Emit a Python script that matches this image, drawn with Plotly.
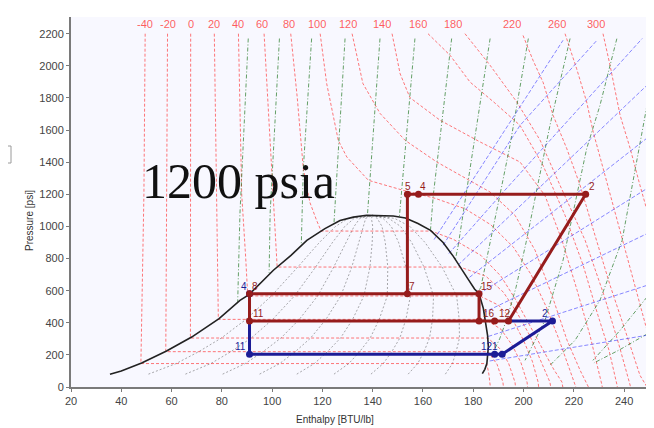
import plotly.graph_objects as go

# ---------------- axes ----------------
H_RANGE = [20, 249.1]
P_RANGE = [0, 2304]

# ---------------- saturation dome (h BTU/lb, P psia) ----------------
dome_h = [35.5, 40.0, 48.1, 58.0, 68.0, 78.9, 87.2, 90.8, 100.5, 107.5, 113.8, 121.0, 127.0, 132.3, 137.6,
          143.0, 148.2, 153.0, 158.0, 163.0, 168.0, 172.0, 174.7, 178.0, 180.5, 182.3, 184.0, 184.9, 185.7,
          186.0, 185.8, 185.4, 184.6, 183.6]
dome_p = [79, 100, 150, 224, 311, 426, 539, 575, 727, 820, 913, 986, 1037, 1058, 1069,
          1069, 1065, 1052, 1018, 975, 900, 815, 747, 670, 610, 581, 490, 411, 320,
          249, 195, 146, 110, 83]

# ---------------- quality lines inside the dome ----------------
quality_p = [80, 146, 220, 305, 421, 567, 747, 900, 1000, 1050, 1069]
quality_h = [
    [50.8, 61.8, 70.8, 79.8, 89.6, 99.7, 110.2, 118.8, 125.2, 130.3, 140.0],
    [65.5, 75.6, 83.6, 91.7, 100.2, 108.9, 117.3, 124.0, 128.9, 132.6, 140.0],
    [80.3, 89.3, 96.4, 103.5, 110.8, 118.1, 124.5, 129.3, 132.6, 134.9, 140.0],
    [95.0, 103.0, 109.2, 115.3, 121.4, 127.3, 131.7, 134.5, 136.3, 137.2, 140.0],
    [109.8, 116.8, 122.0, 127.2, 132.0, 136.5, 138.9, 139.8, 140.0, 139.5, 140.0],
    [124.6, 130.5, 134.8, 139.0, 142.6, 145.8, 146.0, 145.0, 143.7, 141.8, 140.0],
    [139.3, 144.2, 147.6, 150.8, 153.2, 155.0, 153.2, 150.3, 147.4, 144.1, 140.0],
    [154.1, 157.9, 160.4, 162.6, 163.8, 164.2, 160.4, 155.5, 151.1, 146.4, 140.0],
    [168.9, 171.7, 173.2, 174.5, 174.4, 173.4, 167.6, 160.8, 154.8, 148.7, 140.0],
]

# ---------------- isotherms (deg F) ----------------
iso_temps = [-40, -20, 0, 20, 40, 60, 80, 100, 120, 140, 160, 180, 220, 260, 300]
iso_label_h = [49.4, 58.5, 67.6, 77.0, 86.5, 96.1, 106.8, 118.0, 130.3, 143.6, 158.1, 172.1, 195.3, 213.4, 228.7]
ISO_LABEL_P = 2258
isotherms = [
    [(49.5, 2200), (49.0, 1200), (47.8, 146), (185.4, 146), (186.2, 80), (186.7, 30), (186.8, 0)],
    [(58.4, 2200), (57.7, 220), (185.9, 220), (189.5, 140), (191.8, 30), (192.0, 0)],
    [(67.6, 2200), (67.5, 305), (185.8, 305), (190.5, 240), (194.0, 150), (196.6, 30), (196.8, 0)],
    [(77.0, 2200), (78.0, 1200), (78.6, 421), (184.8, 421), (191.0, 360), (195.5, 260), (199.0, 150), (201.4, 30), (201.6, 0)],
    [(86.6, 2200), (87.9, 1200), (89.5, 800), (90.3, 567), (182.6, 567), (190.0, 510), (196.0, 410), (200.0, 290),
     (203.5, 160), (205.8, 30), (206.0, 0)],
    [(96.8, 2200), (99.8, 1318), (100.3, 1162), (101.3, 950), (102.0, 747), (174.7, 747), (185.0, 690), (192.0, 590),
     (197.5, 460), (202.5, 320), (206.5, 180), (210.5, 30), (210.8, 0)],
    [(107.4, 2200), (110.0, 1800), (112.4, 1360), (115.0, 1150), (117.7, 1037), (119.5, 971), (163.3, 971),
     (172.0, 920), (183.0, 820), (191.0, 690), (197.0, 540), (203.0, 370), (208.0, 220), (212.0, 110), (215.3, 30),
     (215.6, 0)],
    [(119.1, 2200), (121.7, 1889), (126.3, 1536), (129.7, 1432), (138.3, 1287), (152.1, 1225), (164.8, 1175),
     (176.7, 1110), (187.0, 1010), (196.0, 870), (203.0, 700), (209.0, 500), (214.0, 300), (218.0, 130),
     (220.5, 23), (220.8, 0)],
    [(131.8, 2200), (136.1, 1890), (142.9, 1704), (152.9, 1536), (165.5, 1401), (177.4, 1298), (186.7, 1214),
     (196.6, 1069), (204.6, 851), (211.3, 571), (217.3, 291), (222.5, 104), (225.7, 4), (225.8, 0)],
    [(147.7, 2200), (150.9, 1951), (154.8, 1802), (166.8, 1661), (182.7, 1526), (198.6, 1401), (208.5, 1193),
     (215.3, 913), (221.3, 602), (226.4, 322), (231.2, 11), (231.3, 0)],
    [(162.0, 2200), (170.8, 2065), (178.7, 1899), (188.7, 1767), (198.6, 1629), (207.7, 1381), (216.5, 1069),
     (223.7, 758), (229.6, 446), (234.0, 228), (237.2, 11), (237.3, 0)],
    [(176.7, 2200), (186.7, 2003), (197.3, 1775), (206.6, 1536), (214.5, 1256), (224.5, 913), (232.0, 571),
     (238.0, 260), (242.4, 11), (242.5, 0)],
    [(199.8, 2189), (203.8, 2033), (207.8, 1896), (211.8, 1690), (217.2, 1484), (222.5, 1256), (228.4, 945),
     (234.4, 634), (240.4, 353), (246.3, 73), (249.1, 0)],
    [(216.5, 2200), (221.1, 1983), (225.1, 1775), (227.7, 1588), (232.4, 1318), (238.4, 976), (244.4, 634),
     (249.1, 353)],
    [(231.6, 2200), (234.4, 2003), (238.4, 1692), (242.4, 1486), (246.3, 1256), (249.1, 1100)],
]

# ---------------- isentropes (green) ----------------
isentropes = [
    [(90.5, 2170), (87.2, 1080), (86.3, 530)],
    [(102.9, 2170), (99.2, 1080), (98.8, 710)],
    [(115.7, 2170), (112.4, 1360), (111.6, 890)],
    [(129.0, 2170), (125.3, 1200), (124.6, 1020)],
    [(142.9, 2170), (138.3, 1193), (137.9, 1069)],
    [(156.8, 2170), (151.5, 1195), (150.6, 1058)],
    [(171.4, 2170), (164.1, 1194), (163.0, 980)],
    [(186.7, 2170), (178.0, 1277), (174.0, 880), (172.9, 795)],
    [(201.9, 2170), (194.6, 1504), (190.0, 1150), (186.0, 850), (183.0, 620), (181.8, 590)],
    [(218.5, 2170), (210.5, 1629), (205.9, 1277), (201.0, 900), (197.0, 620), (193.5, 430), (190.5, 300), (188.5, 235)],
    [(237.1, 2169), (230.4, 1754), (225.1, 1484), (222.5, 1287), (215.7, 789), (208.5, 415), (200.6, 166)],
    [(249.1, 1754), (244.4, 1349), (239.2, 913), (230.4, 540), (220.5, 291), (210.5, 135)],
    [(249.1, 560), (238.4, 353), (227.6, 166)],
    [(249.1, 330), (238.0, 230), (228.0, 150)],
]

# ---------------- isochores (blue) ----------------
isochores = [
    [(164.4, 918), (215.7, 2159)],
    [(168.0, 883), (181.5, 1212), (198.6, 1629), (229.2, 2159)],
    [(170.3, 831), (191.8, 1212), (247.2, 2170)],
    [(174.0, 760), (249.1, 1879)],
    [(178.5, 683), (249.1, 1550)],
    [(182.3, 581), (249.1, 1236)],
    [(184.0, 462), (249.1, 955)],
    [(186.0, 315), (249.1, 633)],
    [(186.5, 162), (249.1, 322)],
]

# ---------------- refrigeration cycle ----------------
red_pt_label = ["5", "4", "2", "7", "15", "16", "", "12", "8", "11"]
red_pt_h = [153.8, 158.2, 224.7, 153.8, 182.3, 182.3, 188.5, 194.0, 91.0, 91.0]
red_pt_p = [1200, 1200, 1200, 581, 581, 411, 411, 411, 581, 411]
red_path_h = [153.8, 224.7, 194.0, 91.0, 91.0, 182.3, 182.3, None, 153.8, 153.8]
red_path_p = [1200, 1200, 411, 411, 581, 581, 411, None, 1200, 581]

blue_pt_label = ["11", "12", "1", "2", "4"]
blue_pt_h = [91.0, 188.5, 191.5, 211.5, 91.0]
blue_pt_p = [204, 204, 204, 411, 581]
blue_path_h = [91.0, 91.0, 191.5, 211.5, 194.0]
blue_path_p = [411, 204, 204, 411, 411]

RED = "#961c1c"
BLUE = "#1c1c96"


def join(curves):
    xs, ys = [], []
    for c in curves:
        xs += [p[0] for p in c] + [None]
        ys += [p[1] for p in c] + [None]
    return xs, ys


fig = go.Figure()

qx, qy = [], []
for row in quality_h:
    qx += row + [None]
    qy += quality_p + [None]
fig.add_trace(go.Scatter(x=qx, y=qy, mode="lines",
                         line=dict(color="rgba(60,60,60,0.55)", width=0.8, dash="2px,2px")))

ix, iy = join(isotherms)
fig.add_trace(go.Scatter(x=ix, y=iy, mode="lines",
                         line=dict(color="rgba(255,30,30,0.6)", width=1, dash="3px,2px")))

gx, gy = join(isentropes)
fig.add_trace(go.Scatter(x=gx, y=gy, mode="lines",
                         line=dict(color="rgba(20,110,20,0.65)", width=1, dash="4px,2px,1px,2px")))

bx, by = join(isochores)
fig.add_trace(go.Scatter(x=bx, y=by, mode="lines",
                         line=dict(color="rgba(40,40,255,0.55)", width=1, dash="4px,2px")))

fig.add_trace(go.Scatter(x=dome_h, y=dome_p, mode="lines", line=dict(color="#222222", width=1.6)))

fig.add_trace(go.Scatter(x=blue_path_h, y=blue_path_p, mode="lines", line=dict(color=BLUE, width=3)))
fig.add_trace(go.Scatter(x=red_path_h, y=red_path_p, mode="lines", line=dict(color=RED, width=3)))
fig.add_trace(go.Scatter(x=blue_pt_h, y=blue_pt_p, mode="markers", marker=dict(color=BLUE, size=7)))
fig.add_trace(go.Scatter(x=red_pt_h, y=red_pt_p, mode="markers", marker=dict(color=RED, size=7)))

annotations = []
for t, h in zip(iso_temps, iso_label_h):
    annotations.append(dict(x=h, y=ISO_LABEL_P, text=str(t), showarrow=False,
                            font=dict(family="Liberation Sans", size=11, color="rgba(255,40,40,0.75)")))

label_specs = [
    ("5", 153.8, 1200, RED, "center", 1),
    ("4", 158.2, 1200, RED, "left", 0),
    ("2", 224.7, 1200, RED, "left", 1),
    ("7", 153.8, 581, RED, "left", 0),
    ("15", 182.3, 581, RED, "left", 0),
    ("16", 182.3, 411, RED, "left", 2),
    ("12", 188.5, 411, RED, "left", 2),
    ("8", 91.0, 581, RED, "left", 0),
    ("11", 91.0, 411, RED, "left", 1),
    ("11", 91.0, 204, BLUE, "right", -2),
    ("4", 91.0, 581, BLUE, "right", -1),
    ("12", 188.5, 204, BLUE, "right", 0),
    ("1", 191.5, 204, BLUE, "right", -2),
    ("2", 211.5, 411, BLUE, "right", -2),
]
for txt, h, p, col, xa, xs in label_specs:
    annotations.append(dict(x=h, y=p, text=txt, showarrow=False, xanchor=xa, yanchor="bottom",
                            xshift=xs, yshift=0,
                            font=dict(family="Liberation Sans", size=10, color=col)))

annotations.append(dict(x=86.6, y=1280, text="1200 psia", showarrow=False,
                        font=dict(family="Liberation Serif", size=50, color="#111111")))
annotations.append(dict(xref="paper", yref="paper", x=(30 - 71) / 576, y=(387 - 221) / 370,
                        xanchor="center", yanchor="middle",
                        text="Pressure [psi]", textangle=-90, showarrow=False,
                        font=dict(family="Liberation Sans", size=10, color="#333333")))
annotations.append(dict(xref="paper", yref="paper", x=(334.5 - 71) / 576, y=(387 - 419) / 370,
                        xanchor="center", yanchor="middle",
                        text="Enthalpy [BTU/lb]", showarrow=False,
                        font=dict(family="Liberation Sans", size=10, color="#333333")))

shapes = [
    dict(type="line", xref="paper", yref="paper", x0=1.002, x1=1.002, y0=0, y1=1,
         line=dict(color="#c8c8c8", width=2)),
    dict(type="rect", xref="paper", yref="paper", x0=(-6 - 71) / 576, x1=(11 - 71) / 576,
         y0=(387 - 163) / 370, y1=(387 - 146) / 370, line=dict(color="#9a9a9a", width=1), fillcolor="white"),
    dict(type="circle", xref="paper", yref="paper", x0=(-3 - 71) / 576, x1=(5 - 71) / 576,
         y0=(387 - 167) / 370, y1=(387 - 159) / 370, line=dict(color="#888888", width=1), fillcolor="#999999"),
]

# the page body adds an 8px offset; size the figure so the plot area lands at x 71..647, y 17..387
fig.update_layout(
    width=646, height=420,
    margin=dict(l=63, r=7, t=9, b=41),
    paper_bgcolor="white", plot_bgcolor="#F8F8FF",
    showlegend=False, hovermode=False,
    annotations=annotations, shapes=shapes,
    font=dict(family="Liberation Sans", size=11, color="#333333"),
)
fig.update_xaxes(range=H_RANGE, tick0=20, dtick=20, showgrid=False, zeroline=False,
                 showline=True, linecolor="#7a7a7a", linewidth=2, ticks="outside", ticklen=3,
                 tickcolor="#7a7a7a", tickfont=dict(size=11, color="#444444"))
fig.update_yaxes(range=P_RANGE, tick0=0, dtick=200, showgrid=False, zeroline=False,
                 showline=True, linecolor="#7a7a7a", linewidth=2, ticks="outside", ticklen=3,
                 tickcolor="#7a7a7a", tickfont=dict(size=11, color="#444444"))

fig.write_html("out.html")
